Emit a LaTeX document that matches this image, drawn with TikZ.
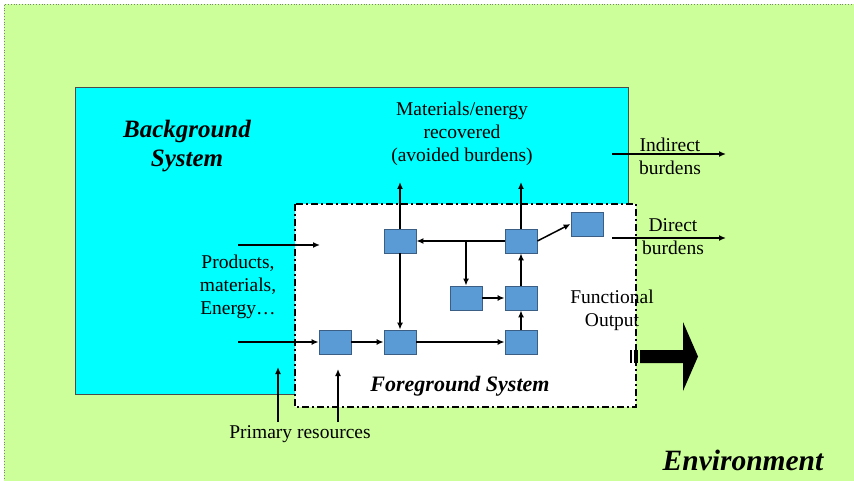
\documentclass[tikz,border=0pt]{standalone}
\usepackage{fontspec}
\setmainfont{Liberation Serif}
\usetikzlibrary{positioning,arrows.meta}
\definecolor{envgreen}{HTML}{CCFF99}
\definecolor{bgcyan}{HTML}{00FFFF}
\definecolor{boxblue}{HTML}{5B9BD5}
\definecolor{boxedge}{HTML}{3B5E85}
\tikzset{
  unit/.style={rectangle,draw=boxedge,fill=boxblue,line width=0.8pt,minimum width=32pt,minimum height=24pt,inner sep=0pt},
  lbl/.style={align=center,font=\fontsize{19.5}{23}\selectfont},
  title/.style={align=center,font=\fontsize{25}{29}\selectfont\bfseries\itshape},
  flow/.style={->,line width=1.5pt},
}
\begin{document}
\begin{tikzpicture}[>={Latex[length=7pt,width=6pt]},x=1pt,y=-1pt]
    \useasboundingbox (0,0) rectangle (854,481);
    % environment and the two systems
    \fill[white] (0,0) rectangle (854,481);
    \fill[envgreen] (4,4) rectangle (860,490);
    \draw[gray,dotted,line width=0.8pt] (4,490) -- (4,4) -- (860,4);
    \draw[fill=bgcyan,draw=black!70,line width=0.8pt] (75,87) rectangle (628,394);
    \draw[fill=white,line width=1.8pt,dash pattern=on 7pt off 3pt on 2pt off 3pt] (295,204) rectangle (636,407);

    % process units
    \node[unit] (b1) at (335,342) {};
    \node[unit] (b2) at (400,342) {};
    \node[unit] (b3) at (400,241) {};
    \node[unit] (b4) at (521,241) {};
    \node[unit] (b5) at (466,298) {};
    \node[unit] (b6) at (521,298) {};
    \node[unit] (b7) at (521,342) {};
    \node[unit] (b8) at (587,224) {};

    \coordinate (up3) at (400,182);
    \coordinate (up4) at (521,182);
    \coordinate (split) at (b5 |- b4);
    \coordinate (in1) at (238,342);
    \coordinate (in2a) at (238,245);
    \coordinate (in2b) at (320,245);
    \coordinate (pr1a) at (278,422);
    \coordinate (pr1b) at (278,367);
    \coordinate (pr2a) at (338,422);
    \coordinate (pr2b) at (338,369);
    \coordinate (ind1) at (612,154);
    \coordinate (ind2) at (726,154);
    \coordinate (dir1) at (612,238);
    \coordinate (dir2) at (726,238);

    \draw[flow] (b3) -- (up3);
    \draw[flow] (b4) -- (up4);
    \draw[flow] (b4) -- (b3);
    \draw[flow] (split) -- (b5);
    \draw[flow] (b5) -- (b6);
    \draw[flow] (b6) -- (b4);
    \draw[flow] (b7) -- (b6);
    \draw[flow] (b2) -- (b7);
    \draw[flow] (b1) -- (b2);
    \draw[flow] (b3) -- (b2);
    \draw[flow] (b4.east) -- (b8.west);
    \draw[flow] (in1) -- (b1);
    \draw[flow] (in2a) -- (in2b);
    \draw[flow] (pr1a) -- (pr1b);
    \draw[flow] (pr2a) -- (pr2b);
    \draw[flow] (ind1) -- (ind2);
    \draw[flow] (dir1) -- (dir2);

    % functional output arrow
    \fill (630,350) rectangle (632,363);
    \fill (634,350) rectangle (638,363);
    \fill (640,350) -- (683,350) -- (683,322) -- (698,356.5) -- (683,391) -- (683,363) -- (640,363) -- cycle;

    % labels
    \node[title] (bgsys) at (187,146) {Background\\System};
    \node[title,font=\fontsize{22}{26}\selectfont\bfseries\itshape] (fgsys) at (460,386) {Foreground System};
    \node[title,font=\fontsize{29.5}{32}\selectfont\bfseries\itshape] (env) at (743,460) {Environment};
    \node[lbl] (recov) at (462,134) {Materials/energy\\recovered\\(avoided burdens)};
    \node[lbl] (prod) at (238,287) {Products,\\materials,\\Energy\ldots};
    \node[lbl] (prim) at (300,434) {Primary resources};
    \node[lbl] (func) at (612,310) {Functional\\Output};
    \node[lbl] (indir) at (670,156) {Indirect\\burdens};
    \node[lbl] (direc) at (673,237) {Direct\\burdens};
\end{tikzpicture}
\end{document}
